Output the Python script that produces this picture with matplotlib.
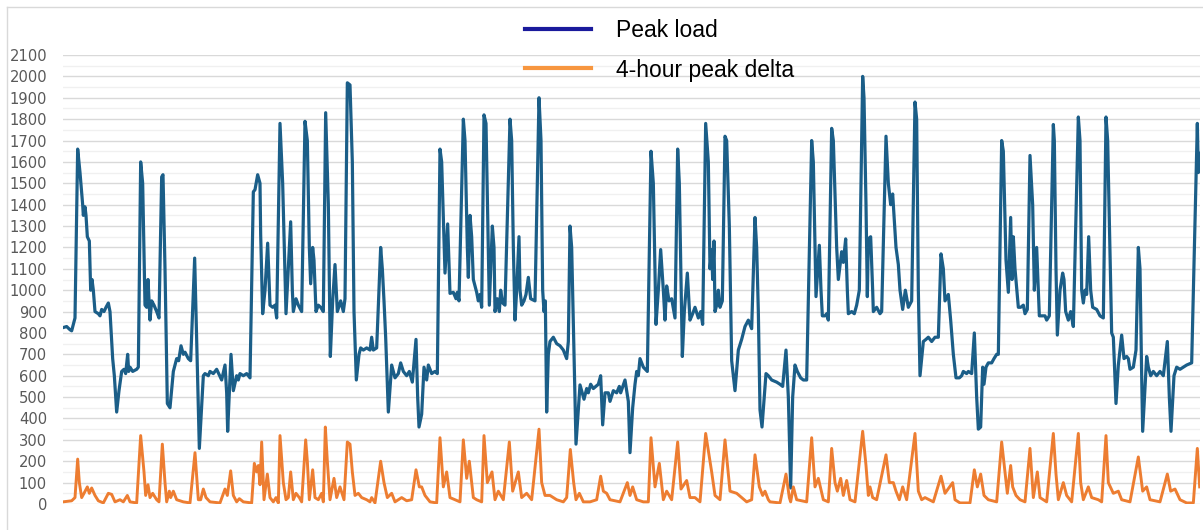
"""
Peak load vs 4-hour peak delta, redrawn from the reference chart.
"""

import matplotlib

matplotlib.use("Agg")
import matplotlib.pyplot as plt
from matplotlib.lines import Line2D
from matplotlib.ticker import MultipleLocator

# sample index along the (unlabelled) time axis, and peak load values
load_t = [
    0, 11, 21, 26, 36, 44, 51, 59, 61, 66, 69, 73, 79, 83, 87, 91, 96, 106, 111, 116,
    123, 129, 136, 141, 149, 154, 161, 168, 176, 183, 188, 194, 197, 201, 209, 221, 226, 233, 239, 246,
    251, 255, 261, 266, 273, 281, 288, 296, 300, 306, 313, 321, 331, 341, 347, 354, 361, 366, 376, 383,
    395, 409, 421, 426, 436, 441, 451, 461, 476, 486, 491, 494, 504, 511, 521, 526, 531, 541, 551, 561,
    571, 576, 584, 591, 593, 599, 606, 614, 621, 629, 636, 641, 651, 659, 669, 676, 683, 688, 691, 699,
    706, 716, 726, 733, 739, 743, 749, 753, 759, 766, 773, 781, 788, 796, 802, 809, 816, 823, 833, 841,
    846, 853, 861, 868, 873, 880, 888, 893, 901, 911, 921, 926, 931, 941, 953, 958, 963, 968, 976, 986,
    996, 1006, 1013, 1021, 1031, 1039, 1048, 1059, 1064, 1068, 1076, 1083, 1091, 1096, 1106, 1116, 1123, 1131, 1136, 1146,
    1154, 1161, 1171, 1179, 1183, 1188, 1201, 1206, 1213, 1216, 1221, 1226, 1231, 1241, 1246, 1251, 1256, 1263, 1269, 1276,
    1279, 1288, 1293, 1296, 1303, 1309, 1313, 1319, 1326, 1341, 1346, 1351, 1356, 1361, 1368, 1371, 1376, 1383, 1389, 1396,
    1403, 1416, 1428, 1434, 1439, 1443, 1447, 1451, 1456, 1461, 1471, 1481, 1491, 1501, 1511, 1516, 1521, 1526, 1533, 1539,
    1551, 1563, 1571, 1576, 1583, 1591, 1606, 1613, 1619, 1626, 1636, 1641, 1651, 1661, 1669, 1673, 1686, 1696, 1701, 1709,
    1716, 1721, 1726, 1731, 1741, 1753, 1764, 1771, 1779, 1786, 1793, 1801, 1806, 1811, 1818, 1826, 1836, 1844, 1849, 1858,
    1864, 1873, 1881, 1889, 1896, 1906, 1913, 1919, 1928, 1936, 1941, 1946, 1949, 1953, 1956, 1961, 1966, 1971, 1978, 1986,
    1991, 1999, 2006, 2016, 2026, 2036, 2046, 2056, 2066, 2076, 2081, 2086, 2091, 2097, 2109, 2116, 2126, 2141, 2151, 2159,
    2169, 2176, 2183, 2189, 2196, 2203, 2213, 2221, 2231, 2246, 2251, 2259, 2269, 2274, 2278, 2286, 2291, 2296, 2306, 2311,
    2321, 2326, 2336, 2341, 2348, 2353, 2356, 2366, 2374, 2381, 2389, 2399, 2403, 2409, 2413, 2416, 2423, 2429, 2431, 2441,
    2451, 2456, 2469, 2476, 2483, 2489, 2499, 2506, 2511, 2519, 2527, 2536, 2546, 2556, 2561, 2566, 2571, 2581, 2589, 2596,
    2606, 2616, 2626, 2634, 2641, 2646, 2656, 2663, 2671, 2679, 2689, 2696, 2701, 2711, 2716, 2726, 2734, 2741, 2746, 2753,
    2759, 2763, 2769, 2776, 2786, 2793, 2801, 2806, 2816, 2821, 2829, 2836, 2843, 2847, 2851, 2856, 2866, 2873, 2881, 2886,
    2893, 2901, 2909, 2914, 2921, 2929, 2939, 2946, 2951, 2959, 2971, 2974, 2979, 2983, 2991, 2999, 3003, 3008, 3016, 3023,
    3031, 3046, 3051, 3056, 3061, 3066, 3071, 3077, 3083, 3089, 3101, 3111, 3121, 3129, 3134, 3146, 3151, 3159, 3166, 3176,
    3183, 3191, 3196, 3201, 3211, 3219, 3226, 3231, 3236, 3239, 3251, 3256, 3263, 3271, 3281, 3291, 3301, 3313, 3319, 3324,
    3333, 3341, 3351, 3361, 3371, 3386, 3403, 3406, 3410,
]
peak_load = [
    825, 830, 815, 810, 870, 1660, 1550, 1400, 1350, 1390, 1350, 1250, 1230, 1000, 1050, 1000, 900, 890, 880, 910,
    900, 920, 940, 900, 680, 600, 430, 530, 620, 630, 610, 700, 620, 640, 620, 630, 640, 1600, 1500, 930,
    920, 1050, 860, 950, 930, 900, 870, 1530, 1540, 1100, 470, 450, 620, 680, 670, 740, 700, 710, 680, 670,
    1150, 260, 600, 610, 600, 620, 610, 630, 580, 650, 520, 340, 700, 530, 600, 580, 610, 600, 610, 590,
    1460, 1470, 1540, 1500, 1260, 890, 1000, 1220, 930, 920, 930, 870, 1780, 1500, 890, 1100, 1320, 1000, 900, 960,
    930, 900, 1790, 1700, 1200, 1030, 1200, 1140, 900, 930, 920, 900, 1830, 1400, 690, 950, 1120, 900, 950, 900,
    960, 1970, 1960, 1600, 900, 580, 700, 730, 720, 730, 720, 780, 720, 730, 1200, 1100, 950, 780, 430, 650,
    590, 610, 660, 620, 600, 620, 570, 770, 500, 360, 420, 640, 580, 650, 610, 620, 610, 1660, 1600, 1080,
    1310, 985, 990, 960, 990, 950, 1800, 1700, 1200, 1060, 1350, 1250, 1050, 990, 950, 980, 920, 1820, 1780, 1200,
    930, 1300, 1200, 900, 960, 900, 1000, 940, 930, 1800, 1700, 1200, 860, 1000, 1250, 1000, 930, 950, 980, 1060,
    960, 950, 1900, 1700, 1000, 900, 950, 430, 700, 760, 780, 750, 740, 720, 680, 760, 1300, 1200, 700, 280,
    557, 490, 540, 520, 560, 540, 560, 600, 370, 520, 520, 480, 530, 520, 550, 520, 580, 480, 240, 450,
    560, 620, 600, 680, 640, 620, 1650, 1500, 840, 1000, 1190, 1000, 860, 1020, 950, 960, 870, 1660, 1500, 690,
    900, 1080, 860, 890, 920, 870, 900, 840, 1780, 1600, 1100, 1190, 1050, 1230, 900, 930, 1000, 920, 950, 1720,
    1700, 1300, 670, 530, 720, 770, 830, 860, 820, 1340, 1200, 900, 440, 360, 610, 600, 580, 570, 560, 550,
    720, 500, 75, 500, 650, 620, 590, 580, 580, 1700, 1600, 970, 1210, 1000, 880, 880, 890, 860, 1757, 1700,
    1200, 1050, 1180, 1130, 1240, 1000, 890, 900, 890, 930, 1000, 2000, 1900, 1400, 970, 1240, 1250, 1000, 900, 920,
    890, 900, 1720, 1500, 1400, 1450, 1200, 1120, 1000, 910, 1000, 920, 950, 1880, 1800, 1000, 600, 760, 770, 780,
    760, 780, 780, 1170, 1100, 950, 980, 860, 700, 590, 590, 600, 620, 610, 620, 610, 800, 500, 350, 360,
    640, 560, 640, 660, 660, 680, 700, 700, 1700, 1650, 1140, 990, 1340, 1050, 1250, 1100, 920, 920, 930, 890,
    910, 1630, 1400, 1000, 1200, 880, 880, 880, 860, 880, 1775, 1700, 1100, 790, 1000, 1080, 1050, 900, 860, 900,
    830, 1810, 1700, 1000, 940, 1000, 980, 1250, 1000, 920, 910, 880, 870, 1810, 1700, 800, 780, 470, 650, 790,
    680, 690, 680, 630, 640, 720, 1200, 1100, 600, 340, 690, 640, 600, 620, 600, 620, 600, 760, 500, 340,
    600, 640, 630, 640, 650, 660, 1780, 1550, 1640,
]

# sample index and 4-hour peak delta values
delta_t = [
    0, 26, 36, 44, 49, 56, 63, 73, 79, 86, 96, 106, 121, 136, 146, 156, 171, 181, 193, 201,
    221, 233, 243, 248, 255, 261, 269, 281, 288, 298, 306, 311, 319, 323, 331, 341, 361, 381, 396, 406,
    413, 421, 429, 441, 471, 486, 493, 503, 511, 521, 529, 541, 566, 574, 581, 586, 591, 596, 603, 613,
    621, 631, 639, 646, 651, 661, 669, 676, 683, 691, 699, 709, 716, 728, 733, 739, 749, 756, 766, 776,
    781, 787, 793, 801, 813, 821, 831, 843, 853, 861, 868, 876, 886, 896, 911, 921, 926, 936, 953, 963,
    973, 986, 996, 1016, 1031, 1046, 1059, 1069, 1076, 1086, 1101, 1121, 1131, 1141, 1151, 1161, 1176, 1191, 1201, 1211,
    1219, 1231, 1241, 1256, 1263, 1273, 1287, 1296, 1306, 1321, 1339, 1349, 1366, 1376, 1391, 1406, 1428, 1436, 1446, 1461,
    1481, 1501, 1511, 1522, 1532, 1539, 1549, 1561, 1581, 1601, 1613, 1621, 1631, 1641, 1671, 1693, 1701, 1709, 1721, 1741,
    1756, 1764, 1776, 1789, 1801, 1811, 1826, 1844, 1854, 1871, 1881, 1896, 1911, 1928, 1946, 1956, 1971, 1986, 2001, 2021,
    2036, 2051, 2066, 2076, 2089, 2099, 2106, 2116, 2121, 2151, 2169, 2179, 2183, 2191, 2201, 2231, 2246, 2256, 2266, 2281,
    2296, 2306, 2316, 2323, 2333, 2341, 2351, 2361, 2376, 2399, 2409, 2416, 2421, 2429, 2441, 2469, 2479, 2491, 2499, 2509,
    2519, 2531, 2556, 2566, 2576, 2586, 2611, 2634, 2646, 2669, 2676, 2691, 2721, 2734, 2743, 2753, 2763, 2776, 2801, 2816,
    2826, 2833, 2843, 2849, 2859, 2871, 2886, 2901, 2911, 2923, 2931, 2951, 2971, 2979, 2986, 3001, 3011, 3026, 3046, 3053,
    3061, 3076, 3086, 3106, 3116, 3129, 3136, 3151, 3166, 3176, 3201, 3226, 3239, 3251, 3261, 3291, 3313, 3323, 3336, 3351,
    3371, 3391, 3403, 3410,
]
peak_delta = [
    10, 15, 30, 210, 100, 30, 50, 80, 50, 75, 40, 15, 5, 50, 45, 10, 20, 10, 40, 10,
    5, 320, 150, 40, 90, 30, 50, 20, 10, 280, 100, 10, 60, 30, 60, 20, 10, 5, 240, 20,
    20, 70, 30, 10, 5, 70, 40, 155, 40, 10, 25, 10, 5, 190, 150, 180, 90, 290, 20, 140,
    30, 10, 30, 5, 320, 100, 20, 30, 150, 20, 50, 30, 10, 300, 200, 20, 160, 30, 20, 50,
    10, 360, 200, 20, 120, 30, 80, 20, 290, 280, 150, 40, 50, 30, 20, 10, 30, 5, 200, 100,
    30, 50, 10, 30, 15, 20, 160, 80, 80, 40, 10, 5, 310, 80, 150, 30, 20, 10, 300, 120,
    200, 30, 20, 10, 320, 100, 150, 20, 60, 20, 290, 60, 150, 30, 50, 20, 350, 100, 40, 40,
    20, 10, 30, 255, 100, 20, 50, 10, 10, 20, 130, 60, 50, 20, 10, 100, 40, 80, 20, 10,
    10, 310, 80, 190, 20, 60, 20, 290, 70, 110, 30, 30, 10, 330, 150, 40, 20, 300, 60, 50,
    30, 10, 20, 230, 80, 40, 60, 20, 10, 5, 140, 30, 10, 80, 20, 10, 310, 80, 120, 20,
    10, 260, 100, 60, 120, 40, 110, 20, 10, 340, 180, 40, 80, 30, 20, 230, 100, 100, 60, 20,
    80, 20, 330, 60, 20, 30, 10, 130, 50, 100, 20, 5, 5, 160, 80, 140, 40, 20, 10, 290,
    150, 50, 180, 80, 40, 20, 10, 260, 30, 150, 30, 10, 330, 140, 20, 100, 40, 10, 330, 100,
    20, 80, 30, 20, 10, 320, 100, 50, 60, 20, 10, 220, 60, 80, 20, 10, 140, 60, 70, 20,
    5, 5, 260, 80,
]

Y_TICKS = list(range(0, 2101, 100))

LOAD_COLOR = "#1b5e88"
DELTA_COLOR = "#ed7d31"
GRID_MAJOR = "#d9d9d9"
GRID_MINOR = "#f0f0f0"

fig = plt.figure(figsize=(12.03, 5.30), dpi=100)
ax = fig.add_axes([63 / 1203, 1 - 504 / 530, 1137 / 1203, 449 / 530])

ax.plot(load_t, peak_load, color=LOAD_COLOR, linewidth=2.3, solid_joinstyle="round", zorder=3)
ax.plot(delta_t, peak_delta, color=DELTA_COLOR, linewidth=2.1, solid_joinstyle="round", zorder=3)

ax.set_xlim(0, 3411)
ax.set_ylim(0, 2100)
ax.set_yticks(Y_TICKS)
ax.yaxis.set_minor_locator(MultipleLocator(50))
ax.grid(axis="y", which="major", color=GRID_MAJOR, linewidth=1.0, zorder=0)
ax.grid(axis="y", which="minor", color=GRID_MINOR, linewidth=1.0, zorder=0)
ax.set_xticks([])
ax.tick_params(axis="y", which="both", length=0, pad=11.5, labelsize=10.6, labelcolor="#595959")
for label in ax.get_yticklabels():
    label.set_fontfamily("DejaVu Sans")
for spine in ax.spines.values():
    spine.set_visible(False)

# outer chart frame: only the top and left edges show in the reference
fig.add_artist(Line2D([7 / 1203, 1], [1 - 7 / 530, 1 - 7 / 530], color=GRID_MAJOR, linewidth=1.0))
fig.add_artist(Line2D([7 / 1203, 7 / 1203], [0, 1 - 7 / 530], color=GRID_MAJOR, linewidth=1.0))

handles = [
    Line2D([0], [0], color="#1a1a9c", linewidth=3),
    Line2D([0], [0], color="#f7963f", linewidth=3),
]
fig.legend(
    handles,
    ["Peak load", "4-hour peak delta"],
    loc="upper left",
    bbox_to_anchor=(525 / 1203, 1 - 19 / 530),
    frameon=False,
    borderpad=0,
    borderaxespad=0,
    handlelength=2.9,
    handletextpad=1.05,
    labelspacing=0.72,
    prop={"family": "Liberation Sans", "size": 16.5},
)

fig.savefig("out.png", dpi=100)
plt.close(fig)
